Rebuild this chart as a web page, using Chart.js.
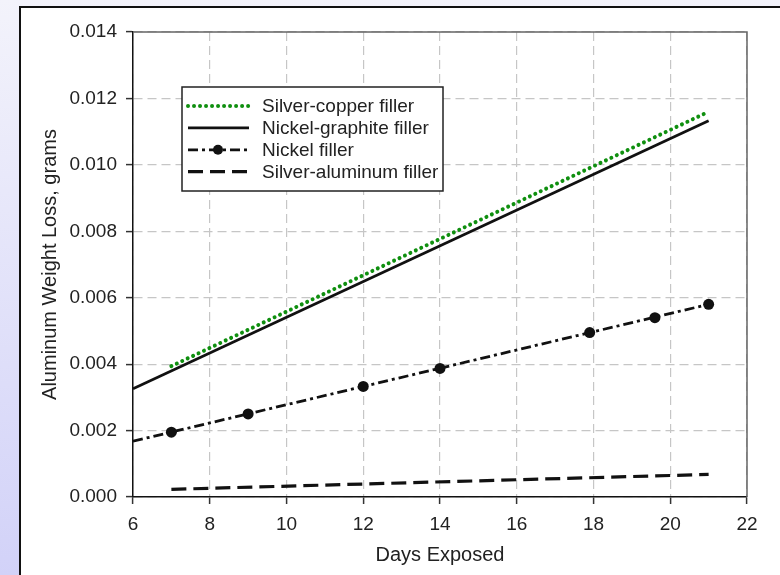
<!DOCTYPE html>
<html>
<head>
<meta charset="utf-8">
<script src="https://cdn.jsdelivr.net/npm/chart.js@4.4.1/dist/chart.umd.min.js"></script>
<style>
  body { margin: 0; width: 780px; height: 575px; overflow: hidden; position: relative;
         background: linear-gradient(to bottom, #f3f3fb, #d2d2f8); }
  #panel { position: absolute; left: 19px; top: 6px; width: 780px; height: 600px;
           background: #fff; border-left: 2px solid #111; border-top: 2px solid #111; }
  #chart_box { position: absolute; left: 0; top: 0; width: 780px; height: 575px; }
</style>
</head>
<body>
<div id="panel"></div>
<div id="chart_box"><canvas id="loss_chart" width="780" height="575"></canvas></div>
<script>
// values
const seriesNames = ['Silver-copper filler', 'Nickel-graphite filler', 'Nickel filler', 'Silver-aluminum filler'];

const copperDays = [7, 21];
const copperLoss = [0.00394, 0.0116];

const graphiteDays = [6, 21];
const graphiteLoss = [0.00326, 0.01133];

const nickelFitDays = [6, 21];
const nickelFitLoss = [0.00168, 0.0058];
const nickelDays = [7, 9, 12, 14, 17.9, 19.6, 21];
const nickelLoss = [0.00195, 0.0025, 0.00333, 0.00387, 0.00495, 0.0054, 0.0058];

const aluminumDays = [7, 21];
const aluminumLoss = [0.00023, 0.00068];

const xTicks = [6, 8, 10, 12, 14, 16, 18, 20, 22];
const yTicks = [0, 0.002, 0.004, 0.006, 0.008, 0.010, 0.012, 0.014];

const fontFam = "'Liberation Sans', Arial, sans-serif";

function toPoints(xs, ys) {
    return xs.map((x, i) => ({ x: x, y: ys[i] }));
}

//styles for each series, also used by the legend
const copperStyle = { color: '#0f8f0f', width: 4, dash: [0.01, 6], cap: 'round' };
const graphiteStyle = { color: '#111', width: 2.8, dash: [], cap: 'butt' };
const nickelStyle = { color: '#111', width: 2.8, dash: [10, 4, 3, 4], cap: 'butt' };
const aluminumStyle = { color: '#111', width: 3.2, dash: [15, 7], cap: 'butt' };
const legendStyles = [copperStyle, graphiteStyle, nickelStyle, aluminumStyle];

function lineSet(label, data, st) {
    return {
        label: label,
        data: data,
        showLine: true,
        borderColor: st.color,
        borderWidth: st.width,
        borderDash: st.dash,
        borderCapStyle: st.cap,
        pointRadius: 0,
        pointHoverRadius: 0,
        fill: false
    };
}

//gray frame on top and right of the plot
const framePlugin = {
    id: 'frame',
    beforeDatasetsDraw(chart) {
        const { ctx, chartArea: a } = chart;
        ctx.save();
        ctx.strokeStyle = '#666';
        ctx.lineWidth = 1.5;
        ctx.beginPath();
        ctx.moveTo(a.left, a.top);
        ctx.lineTo(a.right, a.top);
        ctx.lineTo(a.right, a.bottom);
        ctx.stroke();
        ctx.restore();
    }
};

//boxed legend inside the plot
const legendPlugin = {
    id: 'boxLegend',
    afterDatasetsDraw(chart) {
        const ctx = chart.ctx;
        const box = { x: 182, y: 87, w: 261, h: 104 };
        ctx.save();
        ctx.fillStyle = '#fff';
        ctx.fillRect(box.x, box.y, box.w, box.h);
        ctx.strokeStyle = '#222';
        ctx.lineWidth = 1.5;
        ctx.strokeRect(box.x, box.y, box.w, box.h);
        ctx.font = '19px ' + fontFam;
        ctx.textBaseline = 'middle';
        seriesNames.forEach((name, i) => {
            const st = legendStyles[i];
            const y = 106 + i * 21.9;
            ctx.strokeStyle = st.color;
            ctx.lineWidth = st.width;
            ctx.lineCap = st.cap;
            ctx.setLineDash(st.dash);
            ctx.beginPath();
            ctx.moveTo(188, y);
            ctx.lineTo(249, y);
            ctx.stroke();
            ctx.setLineDash([]);
            if (i === 2) {
                ctx.fillStyle = '#111';
                ctx.beginPath();
                ctx.arc(218, y, 5, 0, Math.PI * 2);
                ctx.fill();
            }
            ctx.fillStyle = '#222';
            ctx.fillText(name, 262, y + 1);
        });
        ctx.restore();
    }
};

const gridOpts = { color: '#c6c6c6', lineWidth: 1.2, tickLength: 7, tickColor: '#333', tickWidth: 1.5 };

new Chart(document.getElementById('loss_chart'), {
    type: 'scatter',
    data: {
        datasets: [
            lineSet(seriesNames[0], toPoints(copperDays, copperLoss), copperStyle),
            lineSet(seriesNames[1], toPoints(graphiteDays, graphiteLoss), graphiteStyle),
            lineSet(seriesNames[2], toPoints(nickelFitDays, nickelFitLoss), nickelStyle),
            {
                label: 'Nickel filler points',
                data: toPoints(nickelDays, nickelLoss),
                showLine: false,
                pointRadius: 5.5,
                pointBackgroundColor: '#111',
                pointBorderColor: '#111',
                pointBorderWidth: 0
            },
            lineSet(seriesNames[3], toPoints(aluminumDays, aluminumLoss), aluminumStyle)
        ]
    },
    options: {
        responsive: false,
        animation: false,
        devicePixelRatio: 1,
        layout: { padding: { left: 0, top: 32, right: 33, bottom: 0 } },
        plugins: { legend: { display: false }, tooltip: { enabled: false } },
        scales: {
            x: {
                type: 'linear',
                min: 6,
                max: 22,
                afterBuildTicks: s => { s.ticks = xTicks.map(v => ({ value: v })); },
                ticks: { font: { family: fontFam, size: 19 }, color: '#222', padding: 9, maxRotation: 0 },
                grid: gridOpts,
                border: { color: '#111', width: 1.5, dash: [9, 5] },
                title: { display: true, text: 'Days Exposed', color: '#222',
                         font: { family: fontFam, size: 20 }, padding: { top: 0, bottom: 8 } },
                afterFit: s => { s.height = 78; }
            },
            y: {
                min: 0,
                max: 0.014,
                afterBuildTicks: s => { s.ticks = yTicks.map(v => ({ value: v })); },
                ticks: { font: { family: fontFam, size: 19 }, color: '#222', padding: 9,
                         callback: v => v.toFixed(3) },
                grid: gridOpts,
                border: { color: '#111', width: 1.5, dash: [9, 5] },
                title: { display: true, text: 'Aluminum Weight Loss, grams', color: '#222',
                         font: { family: fontFam, size: 20 }, padding: { top: 38, bottom: 0 } },
                afterFit: s => { s.width = 133; }
            }
        }
    },
    plugins: [framePlugin, legendPlugin]
});
</script>
</body>
</html>
